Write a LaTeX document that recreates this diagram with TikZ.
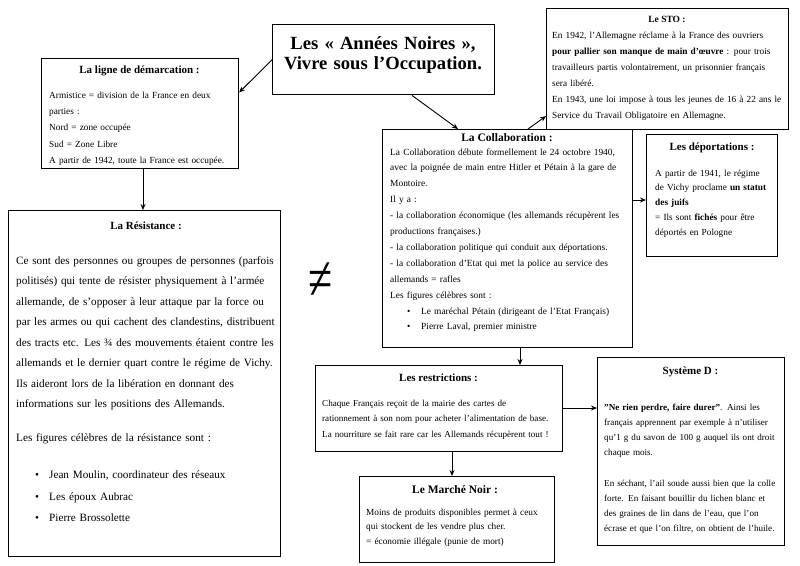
\documentclass[tikz,border=0pt]{standalone}
\usepackage{fontspec}
\setmainfont{Liberation Serif}
\usetikzlibrary{arrows.meta,calc}
\newcommand\jline[1]{\makebox[\linewidth][s]{#1}}
\newcommand\fsz[2]{\fontsize{#1}{#2}\selectfont}
\newcommand\bul[1]{\hspace*{#1}\makebox[14pt][l]{•}}
\begin{document}
\begin{tikzpicture}[x=1pt,y=-1pt,
  box/.style={draw,line width=1.1pt,rectangle,inner sep=0,anchor=north west},
  hd/.style={anchor=base,inner sep=0},
  body/.style={anchor=base west,inner sep=0,align=left},
  arr/.style={line width=0.9pt,-{Stealth[length=6pt,width=5pt]}}]
\useasboundingbox (0,0) rectangle (800,565);

% ---------- title ----------
\node[box,line width=1.4pt,minimum width=222,minimum height=70] (title) at (272,24) {};
\node[anchor=base,inner sep=0,align=center,text width=222,font=\bfseries\fsz{18.6}{20}] (titletxt) at (383,49)
  {Les « Années Noires »,\\Vivre sous l’Occupation.};

% ---------- ligne de demarcation ----------
\node[box,minimum width=197,minimum height=110] (lig) at (41,58) {};
\node[hd,font=\bfseries\fsz{11}{13}] (lighd) at (139.5,73) {La ligne de démarcation :};
\node[body,text width=190,font=\fsz{9.3}{16.2}] (ligtxt) at (49,98.5)
  {Armistice = division de la France en deux\\
   parties :\\
   Nord = zone occupée\\
   Sud = Zone Libre\\
   A partir de 1942, toute la France est occupée.};

% ---------- STO ----------
\node[box,minimum width=242,minimum height=121] (sto) at (546,8) {};
\node[hd,font=\bfseries\fsz{9.5}{12}] (stohd) at (667,22) {Le STO :};
\node[body,text width=231,font=\fsz{9.3}{16}] (stotxt) at (552,38)
  {\jline{En 1942, l'Allemagne réclame à la France des ouvriers}\\
   \jline{\textbf{pour pallier son manque de main d'œuvre} : pour trois}\\
   \jline{travailleurs partis volontairement, un prisonnier français}\\
   sera libéré.\\
   \jline{En 1943, une loi impose à tous les jeunes de 16 à 22 ans le}\\
   Service du Travail Obligatoire en Allemagne.};

% ---------- Collaboration ----------
\node[box,minimum width=250,minimum height=218] (collab) at (382,129) {};
\node[hd,font=\bfseries\fsz{11.5}{14}] (collabhd) at (507,141) {La Collaboration :};
\node[body,text width=233,font=\fsz{9.4}{15.9}] (collabtxt) at (390,155)
  {\jline{La Collaboration débute formellement le 24 octobre 1940,}\\
   \jline{avec la poignée de main entre Hitler et Pétain à la gare de}\\
   Montoire.\\
   Il y a :\\
   \jline{- la collaboration économique (les allemands récupèrent les}\\
   productions françaises.)\\
   - la collaboration politique qui conduit aux déportations.\\
   \jline{- la collaboration d'Etat qui met la police au service des}\\
   allemands = rafles\\
   Les figures célèbres sont :\\
   \bul{17pt}Le maréchal Pétain (dirigeant de l'Etat Français)\\
   \bul{17pt}Pierre Laval, premier ministre};

% ---------- Deportations ----------
\node[box,minimum width=131,minimum height=122] (dep) at (646,134) {};
\node[hd,font=\bfseries\fsz{11}{13}] (dephd) at (712,150) {Les déportations :};
\node[body,text width=125,font=\fsz{9.3}{14.8}] (deptxt) at (655,176)
  {A partir de 1941, le régime\\
   de Vichy proclame \textbf{un statut}\\
   \textbf{des juifs}\\
   = Ils sont \textbf{fichés} pour être\\
   déportés en Pologne};

% ---------- Resistance ----------
\node[box,minimum width=272,minimum height=346] (res) at (8,210) {};
\node[hd,font=\bfseries\fsz{11}{13}] (reshd) at (146,229) {La Résistance :};
\node[body,text width=257,font=\fsz{11.2}{20.5}] (restxt) at (16,264)
  {\jline{Ce sont des personnes ou groupes de personnes (parfois}\\
   \jline{politisés) qui tente de résister physiquement à l'armée}\\
   \jline{allemande, de s'opposer à leur attaque par la force ou}\\
   \jline{par les armes ou qui cachent des clandestins, distribuent}\\
   \jline{des tracts etc. Les ¾ des mouvements étaient contre les}\\
   \jline{allemands et le dernier quart contre le régime de Vichy.}\\
   \jline{Ils aideront lors de la libération en donnant des}\\
   informations sur les positions des Allemands.\\[13pt]
   Les figures célèbres de la résistance sont :\\[17pt]
   \bul{19pt}Jean Moulin, coordinateur des réseaux\\[1pt]
   \bul{19pt}Les époux Aubrac\\[1pt]
   \bul{19pt}Pierre Brossolette};

% ---------- Restrictions ----------
\node[box,minimum width=247,minimum height=86] (restr) at (315,365) {};
\node[hd,font=\bfseries\fsz{11}{13}] (restrhd) at (438.5,381) {Les restrictions :};
\node[body,text width=245,font=\fsz{9.1}{15.5}] (restrtxt) at (322,406)
  {Chaque Français reçoit de la mairie des cartes de\\
   rationnement à son nom pour acheter l'alimentation de base.\\
   La nourriture se fait rare car les Allemands récupèrent tout !};

% ---------- Marche Noir ----------
\node[box,minimum width=195,minimum height=86] (noir) at (359,476) {};
\node[hd,font=\bfseries\fsz{11.5}{13}] (noirhd) at (455,493) {Le Marché Noir :};
\node[body,text width=190,font=\fsz{9.3}{14.5}] (noirtxt) at (366,515)
  {Moins de produits disponibles permet à ceux\\
   qui stockent de les vendre plus cher.\\
   = économie illégale (punie de mort)};

% ---------- Systeme D ----------
\node[box,minimum width=187,minimum height=188] (sysd) at (597,357) {};
\node[hd,font=\bfseries\fsz{11}{13}] (sysdhd) at (690.5,374) {Système D :};
\node[body,text width=172,font=\fsz{9.1}{15}] (sysdtxt) at (604,410)
  {\jline{\textbf{"Ne rien perdre, faire durer"}. Ainsi les}\\
   \jline{français apprennent par exemple à n'utiliser}\\
   \jline{qu'1 g du savon de 100 g auquel ils ont droit}\\
   chaque mois.\\[16pt]
   \jline{En séchant, l'ail soude aussi bien que la colle}\\
   \jline{forte. En faisant bouillir du lichen blanc et}\\
   \jline{des graines de lin dans de l'eau, que l'on}\\
   \jline{écrase et que l'on filtre, on obtient de l'huile.}};

% ---------- not equal ----------
\node[inner sep=0,font=\fsz{44}{44}] (neq) at (321,281) {\scalebox{1}[1.4]{≠}};

% ---------- connectors ----------
\draw[arr] (title.west) -- (lig.12);
\draw[arr] ($(title.south west)+(140,0)$) -- ($(collab.north west)+(76,0)$);
\draw[arr] ($(collab.north west)+(146,0)$) -- ($(sto.south west)+(0,-14)$);
\draw[arr] ($(lig.south west)+(102,0)$) -- ($(res.north west)+(135,0)$);
\draw[arr] ($(collab.north east)+(0,71)$) -- ($(dep.north west)+(0,66)$);
\draw[arr] ($(collab.south west)+(138,0)$) -- ($(restr.north west)+(205,0)$);
\draw[arr] ($(restr.north east)+(0,43)$) -- ($(sysd.north west)+(0,51)$);
\draw[arr] ($(restr.south west)+(137,0)$) -- ($(noir.north west)+(93,0)$);
\end{tikzpicture}
\end{document}
